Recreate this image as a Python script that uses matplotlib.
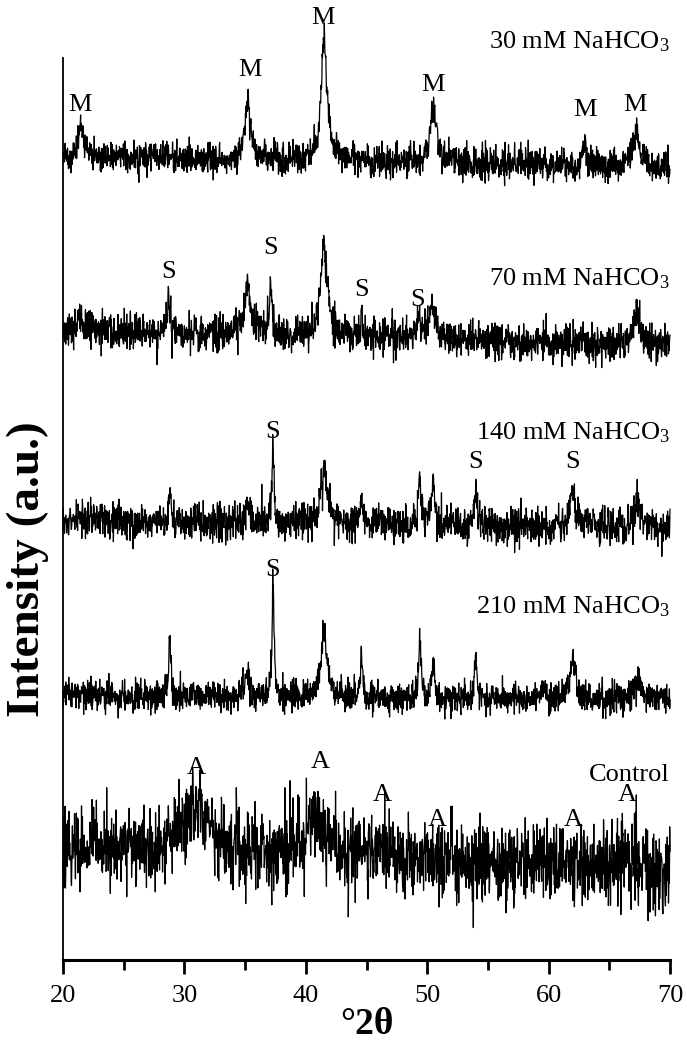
import numpy as np
import matplotlib.pyplot as plt
from matplotlib.ticker import MultipleLocator

plt.rcParams['font.family'] = ['Liberation Serif', 'DejaVu Serif']
plt.rcParams['mathtext.fontset'] = 'custom'
plt.rcParams['mathtext.rm'] = 'Liberation Serif'
plt.rcParams['mathtext.it'] = 'Liberation Serif:italic'

# scan grid (degrees 2-theta)
two_theta = np.arange(20, 70.001, 0.025)

# sample names, vertical offsets and background drift (a.u.)
samples = ['30 mM NaHCO$_3$', '70 mM NaHCO$_3$', '140 mM NaHCO$_3$',
           '210 mM NaHCO$_3$', 'Control']
offsets = [805, 630, 440, 265, 110]
drift = [-12, -15, -8, -5, -20]
noise_level = [8, 9, 9, 8, 19]

# peak tables: position, height, FWHM
peaks_30 = [(21.5, 30, 0.5), (35.2, 65, 0.45), (41.5, 118, 0.6),
            (50.5, 55, 0.6), (63.0, 25, 0.3), (67.2, 38, 0.5)]
peaks_70 = [(21.5, 12, 0.5), (28.7, 45, 0.2), (35.2, 50, 0.6),
            (37.1, 62, 0.2), (41.5, 88, 0.7), (44.6, 30, 0.2),
            (49.3, 22, 0.25), (50.5, 32, 0.6), (67.3, 30, 0.6)]
peaks_140 = [(28.8, 30, 0.2), (35.2, 15, 0.5), (37.3, 70, 0.22),
             (41.5, 52, 0.6), (44.6, 28, 0.2), (49.4, 45, 0.25),
             (50.5, 35, 0.4), (54.0, 35, 0.3), (62.0, 40, 0.5),
             (67.3, 25, 0.6)]
peaks_210 = [(28.8, 65, 0.18), (35.2, 22, 0.5), (37.3, 102, 0.22),
             (41.5, 65, 0.6), (44.6, 45, 0.18), (49.4, 60, 0.25),
             (50.5, 35, 0.3), (54.0, 45, 0.25), (59.5, 15, 0.3),
             (62.0, 40, 0.5), (67.3, 18, 0.8)]
peaks_ctrl = [(31.0, 48, 3.0), (40.8, 40, 2.2), (46.0, 15, 2.0),
              (66.3, 12, 1.5)]
peak_tables = [peaks_30, peaks_70, peaks_140, peaks_210, peaks_ctrl]

# phase markers: x, y
marks_m = [(21.4, 855), (35.4, 890), (41.4, 942), (50.5, 875),
           (63.0, 850), (67.1, 855)]
marks_s = [(28.7, 688), (37.1, 712), (44.6, 670), (49.2, 660),
           (37.3, 528), (54.0, 498), (62.0, 498), (37.3, 390)]
marks_a = [(31.0, 192), (41.2, 198), (46.3, 165), (50.8, 140),
           (62.0, 140), (66.5, 165)]
label_y = [918, 681, 527, 353, 185]


def pattern(table):
    y = np.zeros_like(two_theta)
    for pos, h, w in table:
        g = (w / 2) ** 2 / ((two_theta - pos) ** 2 + (w / 2) ** 2)
        y += h * g
    return y


rng = np.random.default_rng(7)

fig = plt.figure(figsize=(6.87, 10.53), dpi=100)
ax = fig.add_axes([63 / 687, 93 / 1053, 607 / 687, 902 / 1053])

for i in range(5):
    base = offsets[i] + drift[i] * (two_theta - 20) / 50
    y = base + pattern(peak_tables[i])
    y = y + rng.normal(0, noise_level[i], two_theta.size)
    ax.plot(two_theta, y, color='black', lw=0.9, clip_on=False)
    ax.text(70, label_y[i], samples[i], ha='right', va='center', fontsize=19)

for letter, marks in (('M', marks_m), ('S', marks_s), ('A', marks_a)):
    for x, y in marks:
        ax.text(x, y, letter, ha='center', va='center', fontsize=19)

ax.set_xlim(20, 70)
ax.set_ylim(0, 902)
ax.xaxis.set_major_locator(MultipleLocator(10))
ax.xaxis.set_minor_locator(MultipleLocator(5))
ax.tick_params(axis='x', which='major', length=10, width=2, labelsize=19, pad=8)
ax.tick_params(axis='x', which='minor', length=7, width=2)
ax.set_yticks([])
ax.spines['top'].set_visible(False)
ax.spines['right'].set_visible(False)
ax.spines['bottom'].set_linewidth(2.2)
ax.spines['left'].set_linewidth(1.3)

ax.set_xlabel('°2θ', fontsize=27, fontweight='bold', labelpad=0)
fig.text(28 / 687, 1 - 569 / 1053, 'Intensity (a.u.)', rotation=90,
         ha='center', va='center', fontsize=34, fontweight='bold')

fig.savefig('out.png', dpi=100)
